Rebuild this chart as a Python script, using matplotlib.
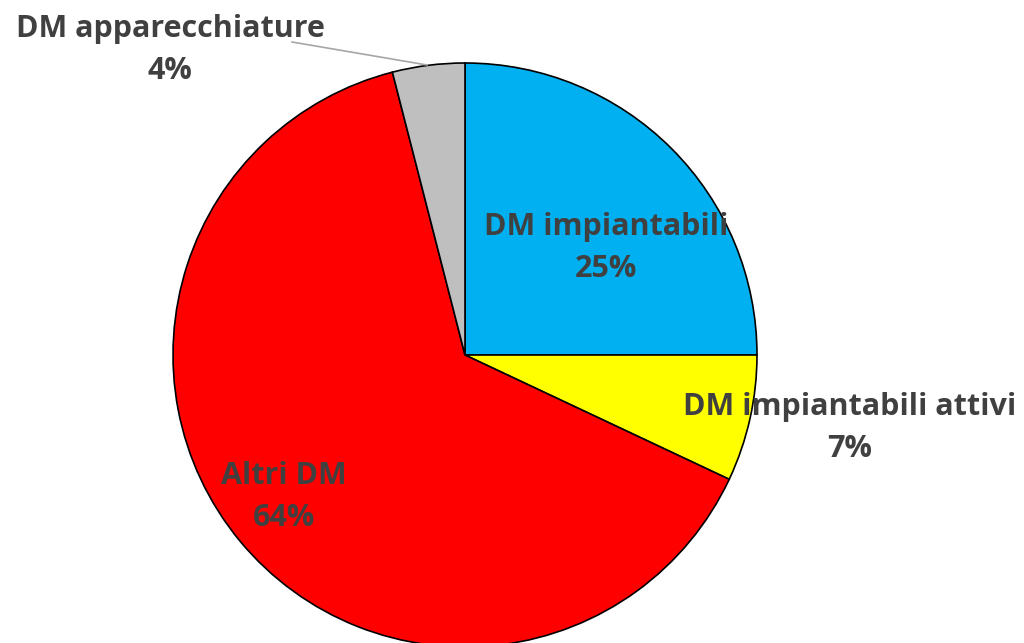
import matplotlib
matplotlib.use("Agg")
import matplotlib.pyplot as plt

# slices, clockwise from the top
labels = ["DM impiantabili", "DM impiantabili attivi", "Altri DM", "DM apparecchiature"]
values = [25, 7, 64, 4]
colors = ["#00B0F0", "#FFFF00", "#FF0000", "#BFBFBF"]

W, H = 1024, 643
fig = plt.figure(figsize=(W / 100, H / 100), dpi=100)
ax = fig.add_axes([0, 0, 1, 1])

cx, cy, r = 465, H - 355, 292
ax.pie(values, colors=colors, startangle=90, counterclock=False,
       center=(cx, cy), radius=r,
       wedgeprops=dict(edgecolor="black", linewidth=1.2))

ax.set_xlim(0, W)
ax.set_ylim(0, H)
ax.set_aspect("equal")
ax.axis("off")

# label positions (pixels, from top-left)
label_pos = [(606, 248), (850, 428), (284, 497), (170, 50)]
txt = "#404040"
for name, v, (x, y) in zip(labels, values, label_pos):
    ax.text(x, H - y, f"{name}\n{v}%", ha="center", va="center",
            fontsize=22, fontweight="bold", color=txt,
            family=["Open Sans", "DejaVu Sans"], linespacing=1.5)

# leader line for the small grey slice
ax.plot([292, 427], [H - 42, H - 65], color="#A6A6A6", lw=1.2)

fig.savefig("out.png", dpi=100)
